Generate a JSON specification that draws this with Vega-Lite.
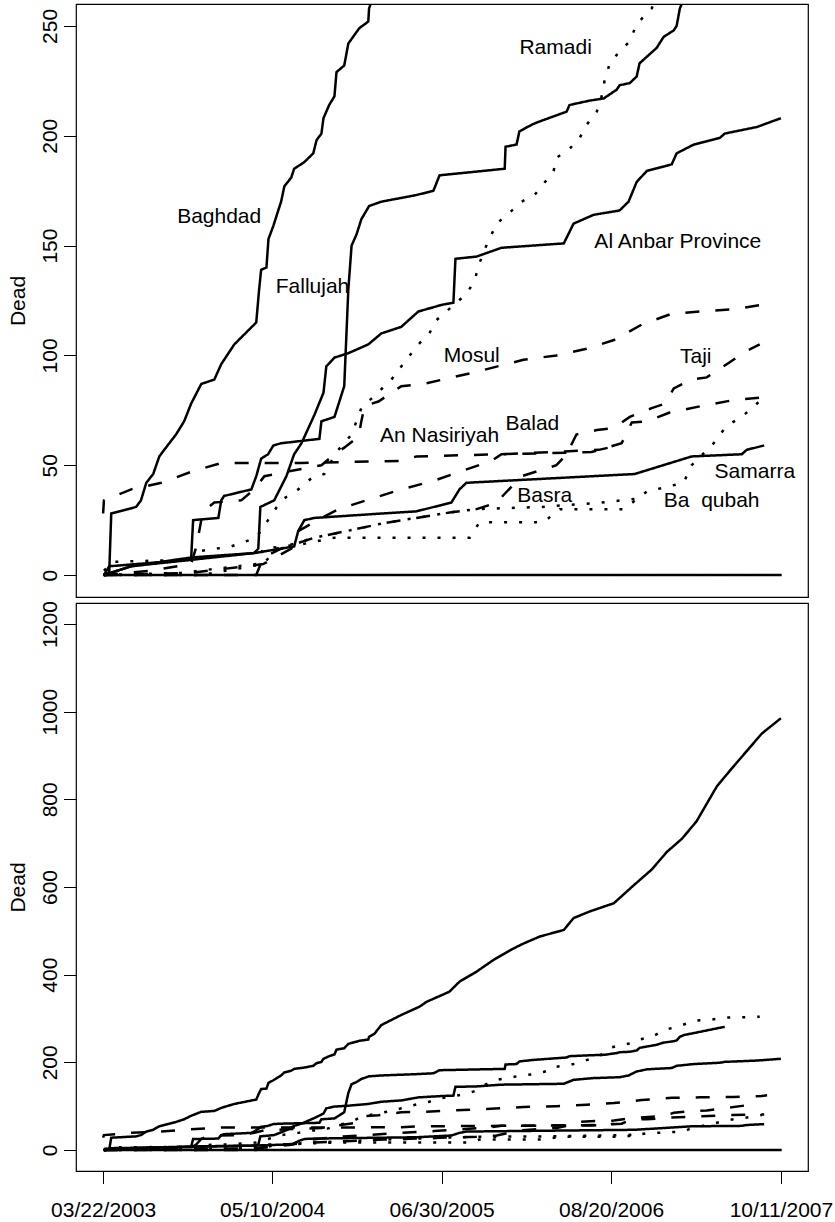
{
"$schema":"https://vega.github.io/schema/vega-lite/v6.json",
"background":"white",
"padding":{"left":6,"top":3,"right":0,"bottom":0},
"spacing":6,
"bounds":"flush",
"config":{"font":"Liberation Sans","view":{"stroke":"black","strokeWidth":1.2},
"axis":{"grid":false,"domain":false,"tickColor":"black","tickWidth":1,"tickSize":12.5,"labelColor":"black","labelFont":"Liberation Sans","labelFontSize":21,"titleFont":"Liberation Sans","titleFontSize":21,"titleFontWeight":"normal","titleColor":"black"}},
"datasets":{
"lines":[
{"city":"zero","style":"solid","date":"2003-03-22","dead":0},{"city":"zero","style":"solid","date":"2007-10-13","dead":0},
{"city":"Baghdad","style":"solid","date":"2003-03-24","dead":0},{"city":"Baghdad","style":"solid","date":"2003-04-06","dead":1},{"city":"Baghdad","style":"solid","date":"2003-04-11","dead":28},{"city":"Baghdad","style":"solid","date":"2003-06-11","dead":31},{"city":"Baghdad","style":"solid","date":"2003-06-23","dead":34},{"city":"Baghdad","style":"solid","date":"2003-07-06","dead":42},{"city":"Baghdad","style":"solid","date":"2003-07-23","dead":46},{"city":"Baghdad","style":"solid","date":"2003-08-07","dead":54},{"city":"Baghdad","style":"solid","date":"2003-08-19","dead":57},{"city":"Baghdad","style":"solid","date":"2003-09-17","dead":64},{"city":"Baghdad","style":"solid","date":"2003-10-07","dead":70},{"city":"Baghdad","style":"solid","date":"2003-10-24","dead":78},{"city":"Baghdad","style":"solid","date":"2003-11-18","dead":87},{"city":"Baghdad","style":"solid","date":"2003-12-20","dead":89},{"city":"Baghdad","style":"solid","date":"2004-01-06","dead":96},{"city":"Baghdad","style":"solid","date":"2004-02-07","dead":105},{"city":"Baghdad","style":"solid","date":"2004-04-01","dead":115},{"city":"Baghdad","style":"solid","date":"2004-04-08","dead":130},{"city":"Baghdad","style":"solid","date":"2004-04-13","dead":139},{"city":"Baghdad","style":"solid","date":"2004-04-26","dead":140},{"city":"Baghdad","style":"solid","date":"2004-05-01","dead":153},{"city":"Baghdad","style":"solid","date":"2004-05-13","dead":159},{"city":"Baghdad","style":"solid","date":"2004-05-25","dead":166},{"city":"Baghdad","style":"solid","date":"2004-06-01","dead":170},{"city":"Baghdad","style":"solid","date":"2004-06-09","dead":177},{"city":"Baghdad","style":"solid","date":"2004-06-26","dead":181},{"city":"Baghdad","style":"solid","date":"2004-07-03","dead":185},{"city":"Baghdad","style":"solid","date":"2004-07-28","dead":188},{"city":"Baghdad","style":"solid","date":"2004-08-19","dead":192},{"city":"Baghdad","style":"solid","date":"2004-08-27","dead":198},{"city":"Baghdad","style":"solid","date":"2004-09-08","dead":201},{"city":"Baghdad","style":"solid","date":"2004-09-13","dead":208},{"city":"Baghdad","style":"solid","date":"2004-09-27","dead":214},{"city":"Baghdad","style":"solid","date":"2004-10-10","dead":218},{"city":"Baghdad","style":"solid","date":"2004-10-15","dead":229},{"city":"Baghdad","style":"solid","date":"2004-11-03","dead":232},{"city":"Baghdad","style":"solid","date":"2004-11-13","dead":242},{"city":"Baghdad","style":"solid","date":"2004-12-10","dead":249},{"city":"Baghdad","style":"solid","date":"2005-01-01","dead":252},{"city":"Baghdad","style":"solid","date":"2005-01-03","dead":258},{"city":"Baghdad","style":"solid","date":"2005-01-16","dead":265},{"city":"Baghdad","style":"solid","date":"2005-02-02","dead":285},{"city":"Baghdad","style":"solid","date":"2005-03-23","dead":308},{"city":"Baghdad","style":"solid","date":"2005-05-07","dead":327},{"city":"Baghdad","style":"solid","date":"2005-05-24","dead":338},{"city":"Baghdad","style":"solid","date":"2005-07-19","dead":361},{"city":"Baghdad","style":"solid","date":"2005-08-13","dead":384},{"city":"Baghdad","style":"solid","date":"2005-09-24","dead":407},{"city":"Baghdad","style":"solid","date":"2005-11-05","dead":434},{"city":"Baghdad","style":"solid","date":"2005-12-24","dead":460},{"city":"Baghdad","style":"solid","date":"2006-01-17","dead":471},{"city":"Baghdad","style":"solid","date":"2006-02-26","dead":487},{"city":"Baghdad","style":"solid","date":"2006-04-26","dead":502},{"city":"Baghdad","style":"solid","date":"2006-05-20","dead":529},{"city":"Baghdad","style":"solid","date":"2006-06-28","dead":544},{"city":"Baghdad","style":"solid","date":"2006-08-27","dead":563},{"city":"Baghdad","style":"solid","date":"2006-10-10","dead":600},{"city":"Baghdad","style":"solid","date":"2006-11-28","dead":640},{"city":"Baghdad","style":"solid","date":"2007-01-04","dead":680},{"city":"Baghdad","style":"solid","date":"2007-02-10","dead":710},{"city":"Baghdad","style":"solid","date":"2007-03-18","dead":750},{"city":"Baghdad","style":"solid","date":"2007-04-12","dead":790},{"city":"Baghdad","style":"solid","date":"2007-05-07","dead":830},{"city":"Baghdad","style":"solid","date":"2007-06-12","dead":870},{"city":"Baghdad","style":"solid","date":"2007-07-19","dead":910},{"city":"Baghdad","style":"solid","date":"2007-08-25","dead":950},{"city":"Baghdad","style":"solid","date":"2007-10-11","dead":985},
{"city":"Fallujah","style":"solid","date":"2003-03-24","dead":0},{"city":"Fallujah","style":"solid","date":"2003-04-06","dead":4},{"city":"Fallujah","style":"solid","date":"2003-10-24","dead":7},{"city":"Fallujah","style":"solid","date":"2003-10-29","dead":25},{"city":"Fallujah","style":"solid","date":"2003-12-30","dead":26},{"city":"Fallujah","style":"solid","date":"2004-01-06","dead":34},{"city":"Fallujah","style":"solid","date":"2004-01-13","dead":36},{"city":"Fallujah","style":"solid","date":"2004-03-20","dead":39},{"city":"Fallujah","style":"solid","date":"2004-04-01","dead":45},{"city":"Fallujah","style":"solid","date":"2004-04-13","dead":53},{"city":"Fallujah","style":"solid","date":"2004-04-30","dead":55},{"city":"Fallujah","style":"solid","date":"2004-05-13","dead":59},{"city":"Fallujah","style":"solid","date":"2004-06-01","dead":60},{"city":"Fallujah","style":"solid","date":"2004-09-03","dead":62},{"city":"Fallujah","style":"solid","date":"2004-09-08","dead":70},{"city":"Fallujah","style":"solid","date":"2004-10-10","dead":72},{"city":"Fallujah","style":"solid","date":"2004-11-03","dead":86},{"city":"Fallujah","style":"solid","date":"2004-11-13","dead":130},{"city":"Fallujah","style":"solid","date":"2004-11-21","dead":150},{"city":"Fallujah","style":"solid","date":"2004-12-03","dead":155},{"city":"Fallujah","style":"solid","date":"2004-12-15","dead":162},{"city":"Fallujah","style":"solid","date":"2005-01-03","dead":168},{"city":"Fallujah","style":"solid","date":"2005-02-02","dead":170},{"city":"Fallujah","style":"solid","date":"2005-04-29","dead":173},{"city":"Fallujah","style":"solid","date":"2005-06-10","dead":175},{"city":"Fallujah","style":"solid","date":"2005-06-25","dead":182},{"city":"Fallujah","style":"solid","date":"2005-12-02","dead":185},{"city":"Fallujah","style":"solid","date":"2005-12-04","dead":195},{"city":"Fallujah","style":"solid","date":"2005-12-31","dead":196},{"city":"Fallujah","style":"solid","date":"2006-01-07","dead":202},{"city":"Fallujah","style":"solid","date":"2006-02-06","dead":205},{"city":"Fallujah","style":"solid","date":"2006-02-18","dead":206},{"city":"Fallujah","style":"solid","date":"2006-05-03","dead":211},{"city":"Fallujah","style":"solid","date":"2006-05-10","dead":214},{"city":"Fallujah","style":"solid","date":"2006-06-28","dead":216},{"city":"Fallujah","style":"solid","date":"2006-08-02","dead":217},{"city":"Fallujah","style":"solid","date":"2006-09-03","dead":221},{"city":"Fallujah","style":"solid","date":"2006-09-10","dead":223},{"city":"Fallujah","style":"solid","date":"2006-10-05","dead":224},{"city":"Fallujah","style":"solid","date":"2006-10-22","dead":227},{"city":"Fallujah","style":"solid","date":"2006-10-29","dead":233},{"city":"Fallujah","style":"solid","date":"2006-11-16","dead":236},{"city":"Fallujah","style":"solid","date":"2006-12-10","dead":240},{"city":"Fallujah","style":"solid","date":"2006-12-27","dead":245},{"city":"Fallujah","style":"solid","date":"2007-01-21","dead":248},{"city":"Fallujah","style":"solid","date":"2007-01-28","dead":250},{"city":"Fallujah","style":"solid","date":"2007-02-05","dead":258},{"city":"Fallujah","style":"solid","date":"2007-02-14","dead":262},{"city":"Fallujah","style":"solid","date":"2007-04-19","dead":274},{"city":"Fallujah","style":"solid","date":"2007-05-26","dead":281},
{"city":"Ramadi","style":"dotted","date":"2003-03-24","dead":2},{"city":"Ramadi","style":"dotted","date":"2003-04-15","dead":6},{"city":"Ramadi","style":"dotted","date":"2003-10-24","dead":7},{"city":"Ramadi","style":"dotted","date":"2003-11-18","dead":11},{"city":"Ramadi","style":"dotted","date":"2004-01-30","dead":13},{"city":"Ramadi","style":"dotted","date":"2004-04-01","dead":17},{"city":"Ramadi","style":"dotted","date":"2004-04-30","dead":25},{"city":"Ramadi","style":"dotted","date":"2004-06-01","dead":34},{"city":"Ramadi","style":"dotted","date":"2004-07-13","dead":39},{"city":"Ramadi","style":"dotted","date":"2004-08-14","dead":44},{"city":"Ramadi","style":"dotted","date":"2004-09-15","dead":46},{"city":"Ramadi","style":"dotted","date":"2004-10-15","dead":56},{"city":"Ramadi","style":"dotted","date":"2004-11-21","dead":64},{"city":"Ramadi","style":"dotted","date":"2004-12-15","dead":76},{"city":"Ramadi","style":"dotted","date":"2005-02-27","dead":89},{"city":"Ramadi","style":"dotted","date":"2005-03-23","dead":95},{"city":"Ramadi","style":"dotted","date":"2005-05-04","dead":105},{"city":"Ramadi","style":"dotted","date":"2005-05-31","dead":110},{"city":"Ramadi","style":"dotted","date":"2005-06-17","dead":116},{"city":"Ramadi","style":"dotted","date":"2005-08-30","dead":128},{"city":"Ramadi","style":"dotted","date":"2005-09-19","dead":134},{"city":"Ramadi","style":"dotted","date":"2005-09-29","dead":141},{"city":"Ramadi","style":"dotted","date":"2005-10-13","dead":148},{"city":"Ramadi","style":"dotted","date":"2005-11-12","dead":160},{"city":"Ramadi","style":"dotted","date":"2005-12-14","dead":165},{"city":"Ramadi","style":"dotted","date":"2006-01-12","dead":170},{"city":"Ramadi","style":"dotted","date":"2006-02-13","dead":173},{"city":"Ramadi","style":"dotted","date":"2006-03-07","dead":178},{"city":"Ramadi","style":"dotted","date":"2006-04-01","dead":184},{"city":"Ramadi","style":"dotted","date":"2006-04-08","dead":190},{"city":"Ramadi","style":"dotted","date":"2006-05-10","dead":194},{"city":"Ramadi","style":"dotted","date":"2006-06-04","dead":199},{"city":"Ramadi","style":"dotted","date":"2006-06-21","dead":205},{"city":"Ramadi","style":"dotted","date":"2006-07-16","dead":211},{"city":"Ramadi","style":"dotted","date":"2006-07-28","dead":218},{"city":"Ramadi","style":"dotted","date":"2006-08-04","dead":225},{"city":"Ramadi","style":"dotted","date":"2006-08-17","dead":233},{"city":"Ramadi","style":"dotted","date":"2006-09-08","dead":238},{"city":"Ramadi","style":"dotted","date":"2006-10-05","dead":243},{"city":"Ramadi","style":"dotted","date":"2006-10-20","dead":250},{"city":"Ramadi","style":"dotted","date":"2006-11-11","dead":255},{"city":"Ramadi","style":"dotted","date":"2006-11-28","dead":258},{"city":"Ramadi","style":"dotted","date":"2006-12-30","dead":274},{"city":"Ramadi","style":"dotted","date":"2007-02-05","dead":283},{"city":"Ramadi","style":"dotted","date":"2007-03-13","dead":295},{"city":"Ramadi","style":"dotted","date":"2007-04-19","dead":297},{"city":"Ramadi","style":"dotted","date":"2007-05-31","dead":302},{"city":"Ramadi","style":"dotted","date":"2007-07-12","dead":303},{"city":"Ramadi","style":"dotted","date":"2007-08-20","dead":304},
{"city":"Al Anbar Province","style":"solid","date":"2003-03-24","dead":0},{"city":"Al Anbar Province","style":"solid","date":"2003-05-30","dead":4},{"city":"Al Anbar Province","style":"solid","date":"2003-10-24","dead":8},{"city":"Al Anbar Province","style":"solid","date":"2004-03-27","dead":10},{"city":"Al Anbar Province","style":"solid","date":"2004-04-06","dead":12},{"city":"Al Anbar Province","style":"solid","date":"2004-04-11","dead":31},{"city":"Al Anbar Province","style":"solid","date":"2004-05-15","dead":34},{"city":"Al Anbar Province","style":"solid","date":"2004-06-14","dead":45},{"city":"Al Anbar Province","style":"solid","date":"2004-07-03","dead":55},{"city":"Al Anbar Province","style":"solid","date":"2004-07-21","dead":60},{"city":"Al Anbar Province","style":"solid","date":"2004-08-22","dead":73},{"city":"Al Anbar Province","style":"solid","date":"2004-09-13","dead":83},{"city":"Al Anbar Province","style":"solid","date":"2004-09-20","dead":95},{"city":"Al Anbar Province","style":"solid","date":"2004-10-10","dead":99},{"city":"Al Anbar Province","style":"solid","date":"2004-11-13","dead":101},{"city":"Al Anbar Province","style":"solid","date":"2005-01-01","dead":105},{"city":"Al Anbar Province","style":"solid","date":"2005-02-02","dead":110},{"city":"Al Anbar Province","style":"solid","date":"2005-03-23","dead":113},{"city":"Al Anbar Province","style":"solid","date":"2005-05-04","dead":120},{"city":"Al Anbar Province","style":"solid","date":"2005-06-30","dead":123},{"city":"Al Anbar Province","style":"solid","date":"2005-07-29","dead":124},{"city":"Al Anbar Province","style":"solid","date":"2005-08-03","dead":144},{"city":"Al Anbar Province","style":"solid","date":"2005-09-24","dead":145},{"city":"Al Anbar Province","style":"solid","date":"2005-11-24","dead":149},{"city":"Al Anbar Province","style":"solid","date":"2006-04-26","dead":151},{"city":"Al Anbar Province","style":"solid","date":"2006-05-20","dead":160},{"city":"Al Anbar Province","style":"solid","date":"2006-07-08","dead":164},{"city":"Al Anbar Province","style":"solid","date":"2006-09-10","dead":166},{"city":"Al Anbar Province","style":"solid","date":"2006-10-02","dead":170},{"city":"Al Anbar Province","style":"solid","date":"2006-10-22","dead":179},{"city":"Al Anbar Province","style":"solid","date":"2006-11-16","dead":184},{"city":"Al Anbar Province","style":"solid","date":"2007-01-16","dead":187},{"city":"Al Anbar Province","style":"solid","date":"2007-01-28","dead":192},{"city":"Al Anbar Province","style":"solid","date":"2007-03-11","dead":196},{"city":"Al Anbar Province","style":"solid","date":"2007-05-14","dead":199},{"city":"Al Anbar Province","style":"solid","date":"2007-05-26","dead":201},{"city":"Al Anbar Province","style":"solid","date":"2007-08-13","dead":204},{"city":"Al Anbar Province","style":"solid","date":"2007-10-11","dead":208},
{"city":"Samarra","style":"solid","date":"2003-03-24","dead":0},{"city":"Samarra","style":"solid","date":"2003-05-30","dead":4},{"city":"Samarra","style":"solid","date":"2004-03-27","dead":10},{"city":"Samarra","style":"solid","date":"2004-07-03","dead":13},{"city":"Samarra","style":"solid","date":"2004-07-13","dead":20},{"city":"Samarra","style":"solid","date":"2004-07-28","dead":25},{"city":"Samarra","style":"solid","date":"2004-08-22","dead":26},{"city":"Samarra","style":"solid","date":"2005-02-02","dead":28},{"city":"Samarra","style":"solid","date":"2005-04-29","dead":29},{"city":"Samarra","style":"solid","date":"2005-07-24","dead":33},{"city":"Samarra","style":"solid","date":"2005-08-13","dead":39},{"city":"Samarra","style":"solid","date":"2005-08-30","dead":42},{"city":"Samarra","style":"solid","date":"2006-10-17","dead":46},{"city":"Samarra","style":"solid","date":"2007-03-06","dead":54},{"city":"Samarra","style":"solid","date":"2007-07-07","dead":55},{"city":"Samarra","style":"solid","date":"2007-07-19","dead":57},{"city":"Samarra","style":"solid","date":"2007-08-31","dead":59},
{"city":"Mosul","style":"dashed","date":"2003-03-24","dead":0},{"city":"Mosul","style":"dashed","date":"2003-07-18","dead":2},{"city":"Mosul","style":"dashed","date":"2003-10-24","dead":5},{"city":"Mosul","style":"dashed","date":"2003-11-06","dead":13},{"city":"Mosul","style":"dashed","date":"2003-11-18","dead":25},{"city":"Mosul","style":"dashed","date":"2003-11-30","dead":30},{"city":"Mosul","style":"dashed","date":"2003-12-20","dead":33},{"city":"Mosul","style":"dashed","date":"2004-02-24","dead":34},{"city":"Mosul","style":"dashed","date":"2004-03-27","dead":39},{"city":"Mosul","style":"dashed","date":"2004-04-21","dead":45},{"city":"Mosul","style":"dashed","date":"2004-06-14","dead":47},{"city":"Mosul","style":"dashed","date":"2004-09-08","dead":50},{"city":"Mosul","style":"dashed","date":"2004-10-10","dead":55},{"city":"Mosul","style":"dashed","date":"2004-11-03","dead":58},{"city":"Mosul","style":"dashed","date":"2004-12-08","dead":63},{"city":"Mosul","style":"dashed","date":"2004-12-15","dead":70},{"city":"Mosul","style":"dashed","date":"2004-12-23","dead":77},{"city":"Mosul","style":"dashed","date":"2005-01-26","dead":79},{"city":"Mosul","style":"dashed","date":"2005-03-23","dead":86},{"city":"Mosul","style":"dashed","date":"2005-05-16","dead":87},{"city":"Mosul","style":"dashed","date":"2005-09-12","dead":92},{"city":"Mosul","style":"dashed","date":"2006-01-17","dead":98},{"city":"Mosul","style":"dashed","date":"2006-04-08","dead":100},{"city":"Mosul","style":"dashed","date":"2006-06-21","dead":103},{"city":"Mosul","style":"dashed","date":"2006-08-27","dead":107},{"city":"Mosul","style":"dashed","date":"2006-11-03","dead":114},{"city":"Mosul","style":"dashed","date":"2007-01-16","dead":119},{"city":"Mosul","style":"dashed","date":"2007-03-28","dead":120},{"city":"Mosul","style":"dashed","date":"2007-06-17","dead":121},{"city":"Mosul","style":"dashed","date":"2007-08-25","dead":123},{"city":"Mosul","style":"dashed","date":"2007-09-07","dead":125},
{"city":"Taji","style":"dashed","date":"2003-03-24","dead":0},{"city":"Taji","style":"dashed","date":"2004-04-01","dead":0},{"city":"Taji","style":"dashed","date":"2004-04-18","dead":8},{"city":"Taji","style":"dashed","date":"2004-06-01","dead":12},{"city":"Taji","style":"dashed","date":"2004-08-22","dead":17},{"city":"Taji","style":"dashed","date":"2004-11-21","dead":20.5},{"city":"Taji","style":"dashed","date":"2005-02-07","dead":23.6},{"city":"Taji","style":"dashed","date":"2005-04-29","dead":26},{"city":"Taji","style":"dashed","date":"2005-07-24","dead":28.6},{"city":"Taji","style":"dashed","date":"2005-09-24","dead":30},{"city":"Taji","style":"dashed","date":"2005-11-12","dead":33},{"city":"Taji","style":"dashed","date":"2005-12-02","dead":37},{"city":"Taji","style":"dashed","date":"2006-01-12","dead":45},{"city":"Taji","style":"dashed","date":"2006-04-08","dead":50},{"city":"Taji","style":"dashed","date":"2006-05-03","dead":55},{"city":"Taji","style":"dashed","date":"2006-05-27","dead":64},{"city":"Taji","style":"dashed","date":"2006-07-16","dead":66},{"city":"Taji","style":"dashed","date":"2006-08-27","dead":67},{"city":"Taji","style":"dashed","date":"2006-10-05","dead":72},{"city":"Taji","style":"dashed","date":"2006-11-28","dead":76},{"city":"Taji","style":"dashed","date":"2006-12-30","dead":78},{"city":"Taji","style":"dashed","date":"2007-01-21","dead":85},{"city":"Taji","style":"dashed","date":"2007-03-06","dead":89},{"city":"Taji","style":"dashed","date":"2007-04-12","dead":90},{"city":"Taji","style":"dashed","date":"2007-05-31","dead":96},{"city":"Taji","style":"dashed","date":"2007-07-19","dead":102},{"city":"Taji","style":"dashed","date":"2007-08-20","dead":105},
{"city":"An Nasiriyah","style":"dashed","date":"2003-03-22","dead":28},{"city":"An Nasiriyah","style":"dashed","date":"2003-03-24","dead":34},{"city":"An Nasiriyah","style":"dashed","date":"2003-05-30","dead":39},{"city":"An Nasiriyah","style":"dashed","date":"2003-08-12","dead":42},{"city":"An Nasiriyah","style":"dashed","date":"2003-10-24","dead":47},{"city":"An Nasiriyah","style":"dashed","date":"2004-01-06","dead":51},{"city":"An Nasiriyah","style":"dashed","date":"2004-07-21","dead":51},{"city":"An Nasiriyah","style":"dashed","date":"2005-03-23","dead":52},{"city":"An Nasiriyah","style":"dashed","date":"2005-04-29","dead":54},{"city":"An Nasiriyah","style":"dashed","date":"2005-11-24","dead":55},{"city":"An Nasiriyah","style":"dashed","date":"2006-07-21","dead":57},{"city":"An Nasiriyah","style":"dashed","date":"2006-08-14","dead":58},{"city":"An Nasiriyah","style":"dashed","date":"2006-08-27","dead":60},
{"city":"Balad","style":"dashed","date":"2003-03-24","dead":0},{"city":"Balad","style":"dashed","date":"2003-10-24","dead":1},{"city":"Balad","style":"dashed","date":"2004-04-18","dead":5},{"city":"Balad","style":"dashed","date":"2004-06-26","dead":12},{"city":"Balad","style":"dashed","date":"2004-07-13","dead":20},{"city":"Balad","style":"dashed","date":"2004-09-08","dead":26},{"city":"Balad","style":"dashed","date":"2004-10-20","dead":30},{"city":"Balad","style":"dashed","date":"2004-12-27","dead":34},{"city":"Balad","style":"dashed","date":"2005-03-23","dead":39},{"city":"Balad","style":"dashed","date":"2005-06-12","dead":43},{"city":"Balad","style":"dashed","date":"2005-08-13","dead":47},{"city":"Balad","style":"dashed","date":"2005-10-31","dead":52},{"city":"Balad","style":"dashed","date":"2005-11-24","dead":55},{"city":"Balad","style":"dashed","date":"2006-07-03","dead":56},{"city":"Balad","style":"dashed","date":"2006-08-09","dead":58},{"city":"Balad","style":"dashed","date":"2006-09-15","dead":60},{"city":"Balad","style":"dashed","date":"2006-10-10","dead":69.5},{"city":"Balad","style":"dashed","date":"2006-11-16","dead":70},{"city":"Balad","style":"dashed","date":"2007-01-11","dead":74},{"city":"Balad","style":"dashed","date":"2007-03-31","dead":77},{"city":"Balad","style":"dashed","date":"2007-06-12","dead":79.5},{"city":"Balad","style":"dashed","date":"2007-08-31","dead":81},
{"city":"Basra","style":"dotted","date":"2003-03-24","dead":0},{"city":"Basra","style":"dotted","date":"2003-11-18","dead":0},{"city":"Basra","style":"dotted","date":"2004-04-18","dead":5},{"city":"Basra","style":"dotted","date":"2004-05-21","dead":12},{"city":"Basra","style":"dotted","date":"2004-08-22","dead":17},{"city":"Basra","style":"dotted","date":"2004-11-21","dead":20.5},{"city":"Basra","style":"dotted","date":"2005-02-07","dead":23.6},{"city":"Basra","style":"dotted","date":"2005-04-29","dead":26},{"city":"Basra","style":"dotted","date":"2005-07-24","dead":28.6},{"city":"Basra","style":"dotted","date":"2005-09-24","dead":30},{"city":"Basra","style":"dotted","date":"2006-03-02","dead":31},{"city":"Basra","style":"dotted","date":"2006-07-28","dead":33},{"city":"Basra","style":"dotted","date":"2006-11-03","dead":35},
{"city":"Ba qubah","style":"dotted","date":"2003-03-24","dead":0},{"city":"Ba qubah","style":"dotted","date":"2003-09-30","dead":1},{"city":"Ba qubah","style":"dotted","date":"2004-04-01","dead":5},{"city":"Ba qubah","style":"dotted","date":"2004-04-18","dead":12},{"city":"Ba qubah","style":"dotted","date":"2004-07-21","dead":14},{"city":"Ba qubah","style":"dotted","date":"2004-10-10","dead":17},{"city":"Ba qubah","style":"dotted","date":"2005-09-07","dead":17},{"city":"Ba qubah","style":"dotted","date":"2005-10-01","dead":24},{"city":"Ba qubah","style":"dotted","date":"2006-03-07","dead":24},{"city":"Ba qubah","style":"dotted","date":"2006-04-16","dead":30},{"city":"Ba qubah","style":"dotted","date":"2006-09-20","dead":30},{"city":"Ba qubah","style":"dotted","date":"2006-11-16","dead":38},{"city":"Ba qubah","style":"dotted","date":"2007-02-14","dead":42},{"city":"Ba qubah","style":"dotted","date":"2007-03-06","dead":50},{"city":"Ba qubah","style":"dotted","date":"2007-04-29","dead":60},{"city":"Ba qubah","style":"dotted","date":"2007-05-31","dead":68},{"city":"Ba qubah","style":"dotted","date":"2007-07-07","dead":72},{"city":"Ba qubah","style":"dotted","date":"2007-08-25","dead":80}
],
"labels":[
{"label":"Baghdad","date":"2004-01-01","dead":160.5},
{"label":"Fallujah","date":"2004-08-17","dead":128.2},
{"label":"Ramadi","date":"2006-04-06","dead":237.3},
{"label":"Al Anbar Province","date":"2007-01-31","dead":149.1},
{"label":"Mosul","date":"2005-09-12","dead":96.8},
{"label":"Taji","date":"2007-03-16","dead":96.4},
{"label":"An Nasiriyah","date":"2005-06-25","dead":60.5},
{"label":"Balad","date":"2006-02-08","dead":65.9},
{"label":"Basra","date":"2006-03-10","dead":33.2},
{"label":"Samarra","date":"2007-08-08","dead":44.1},
{"label":"Ba\u00a0\u00a0qubah","date":"2007-04-24","dead":30.9}
]},
"vconcat":[
{"width":732,"height":593,
"layer":[
{"data":{"name":"lines"},"mark":{"type":"line","clip":true,"strokeWidth":2.5,"color":"black","strokeCap":"butt"},
"encoding":{
"x":{"field":"date","type":"temporal","scale":{"type":"utc","domain":[{"year":2003,"month":1,"date":14,"hours":11,"utc":true},{"year":2007,"month":12,"date":16,"hours":13,"utc":true}]},"axis":null},
"y":{"field":"dead","type":"quantitative","scale":{"domain":[-10,260],"nice":false,"zero":false},"axis":{"values":[0,50,100,150,200,250],"format":"d","title":"Dead","labelAngle":-90,"labelAlign":"center","labelBaseline":"alphabetic","labelPadding":7,"titleAngle":-90,"titleX":-52,"titleY":296.5,"titleAlign":"center","titleBaseline":"alphabetic"}},
"detail":{"field":"city"},
"strokeDash":{"field":"style","type":"nominal","scale":{"domain":["solid","dashed","dotted"],"range":[[1,0],[14,16],[3,12]]},"legend":null}}},
{"data":{"name":"labels"},"mark":{"type":"text","font":"Liberation Sans","fontSize":21,"align":"center","baseline":"alphabetic","color":"black"},
"encoding":{"x":{"field":"date","type":"temporal"},"y":{"field":"dead","type":"quantitative"},"text":{"field":"label"}}}
]},
{"width":732,"height":568,
"data":{"name":"lines"},"mark":{"type":"line","clip":true,"strokeWidth":2.5,"color":"black","strokeCap":"butt"},
"encoding":{
"x":{"field":"date","type":"temporal","scale":{"type":"utc","domain":[{"year":2003,"month":1,"date":14,"hours":11,"utc":true},{"year":2007,"month":12,"date":16,"hours":13,"utc":true}]},"axis":{"values":[{"year":2003,"month":3,"date":22,"utc":true},{"year":2004,"month":5,"date":10,"utc":true},{"year":2005,"month":6,"date":30,"utc":true},{"year":2006,"month":8,"date":20,"utc":true},{"year":2007,"month":10,"date":11,"utc":true}],"labelExpr":"utcFormat(datum.value, '%m/%d/%Y')","title":null,"labelPadding":16,"labelFlush":false,"labelOverlap":false,"labelBaseline":"top"}},
"y":{"field":"dead","type":"quantitative","scale":{"domain":[-48,1248],"nice":false,"zero":false},"axis":{"values":[0,200,400,600,800,1000,1200],"format":"d","title":"Dead","labelAngle":-90,"labelAlign":"center","labelBaseline":"alphabetic","labelPadding":7,"titleAngle":-90,"titleX":-52,"titleY":284,"titleAlign":"center","titleBaseline":"alphabetic"}},
"detail":{"field":"city"},
"strokeDash":{"field":"style","type":"nominal","scale":{"domain":["solid","dashed","dotted"],"range":[[1,0],[14,16],[3,12]]},"legend":null}}}
]
}
